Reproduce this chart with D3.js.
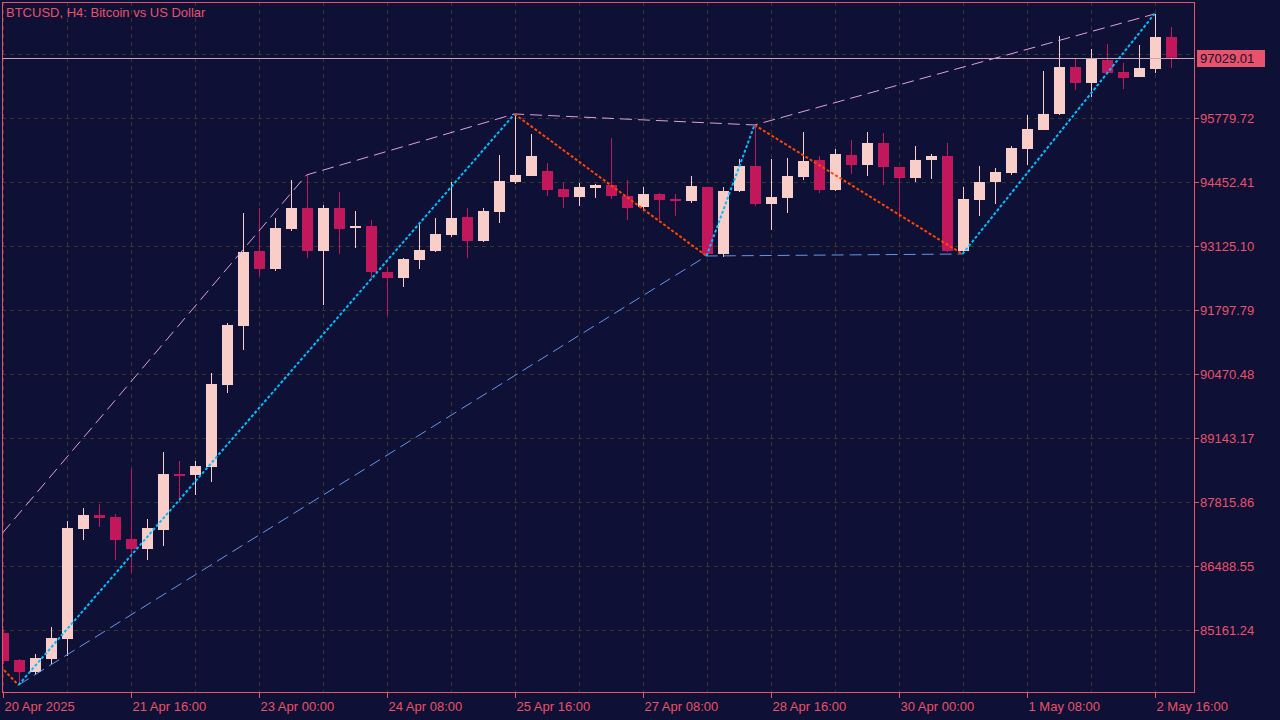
<!DOCTYPE html>
<html><head><meta charset="utf-8">
<script src="https://cdn.jsdelivr.net/npm/d3@7"></script>
<style>html,body{margin:0;padding:0;background:#0e1035;overflow:hidden}</style>
</head><body><svg id="c" width="1280" height="720"></svg>
<script>
// OHLC per 4h bar (index 0..73)
const opens  = [85099,84539,84290,84559,84974,87256,87546,87504,87048,86841,87235,88396,88376,88541,90242,91466,93021,92648,93478,93913,93021,93913,93519,93540,92586,92461,92835,93021,93353,93726,93229,93830,94452,94577,94681,94307,94141,94328,94390,94162,93934,94203,94100,94058,94349,92959,94266,94784,93996,94121,94556,94909,94286,95012,94805,95261,94763,94535,94909,94992,93021,94079,94452,94639,95137,95531,95863,96837,96506,96983,96734,96630,96796,97460];
const highs  = [85161,84559,84663,85223,87421,87691,87774,87567,88500,87463,88853,88666,88666,90491,91528,93809,93913,93706,94494,94598,93975,94245,93851,93664,92689,92876,93623,93706,94452,93913,93913,95012,95863,95448,94846,94432,94432,94411,95365,94494,94349,94224,94203,94577,94349,94349,94929,95635,94929,94950,95489,94992,95137,95323,95489,95469,94763,95199,95033,95261,94349,94784,94743,95199,95842,96755,97480,97003,97211,97314,96920,97294,97937,97667];
const lows   = [84456,84020,84228,84456,84622,87027,87297,86613,86343,86613,86903,87816,87961,88230,90076,90968,92503,92606,93436,92876,91901,92959,93084,92441,91673,92275,92648,93001,93312,92876,93208,93602,94411,94577,94162,93913,93955,94121,94100,93664,93851,93664,93747,94017,92918,92897,94245,93955,93457,93809,94494,94224,94266,94618,94577,94390,93706,94452,94515,93001,92959,93747,93996,94598,94805,95531,95842,96360,96215,96713,96381,96630,96713,96817];
const closes = [84518,84290,84580,84995,87276,87546,87484,87027,86841,87276,88396,88376,88562,90263,91487,93001,92648,93498,93913,93021,93913,93478,93540,92586,92461,92855,93042,93374,93706,93229,93851,94473,94598,94992,94286,94141,94349,94390,94162,93913,94203,94079,94058,94369,92959,94266,94784,93996,94141,94577,94888,94286,95033,94805,95261,94763,94535,94909,94992,93021,94100,94452,94660,95158,95552,95863,96837,96506,97003,96713,96609,96817,97460,97029.01];
const priceTicks = [95779.72,94452.41,93125.10,91797.79,90470.48,89143.17,87815.86,86488.55,85161.24];
const timeLabels = ["20 Apr 2025","21 Apr 16:00","23 Apr 00:00","24 Apr 08:00","25 Apr 16:00","27 Apr 08:00","28 Apr 16:00","30 Apr 00:00","1 May 08:00","2 May 16:00"];
const timeLabelIdx = [0,8,16,24,32,40,48,56,64,72];
const zigzag = [[-1,84700],[1,84020],[32,95863],[44,92918],[47,95635],[60,92959],[72,97937]];
const upperLine = [[0,87173],[19,94598],[32,95863],[47,95635],[72,97937]];
const lowerLine = [[1,84020],[44,92918],[60,92959]];
const lastPrice = 97029.01;

const svg = d3.select("#c");
const L=2,T=2,R=1194,B=692;
const x = d3.scaleLinear().domain([0,1]).range([2.5,18.5]);
const y = d3.scaleLinear().domain([93125.10,94452.41]).range([246,182]);
const font = "Liberation Sans, Arial, sans-serif";
const red = "#e8526a";

svg.append("rect").attr("width",1280).attr("height",720).attr("fill","#0e1035");
const clip = svg.append("defs").append("clipPath").attr("id","cp").append("rect").attr("x",L).attr("y",T).attr("width",R-L).attr("height",B-T);
const g = svg.append("g").attr("clip-path","url(#cp)");
// grid
const gridXs = d3.range(-1,19).map(i=>x(4*i));
g.selectAll(".gx").data(gridXs).join("line").attr("x1",d=>Math.round(d)+0.5).attr("x2",d=>Math.round(d)+0.5).attr("y1",T).attr("y2",B)
 .attr("stroke","#3b3524").attr("stroke-dasharray","4,4");
const gridYs = priceTicks.concat([97106.03]);
g.selectAll(".gy").data(gridYs).join("line").attr("y1",d=>Math.round(y(d))+0.5).attr("y2",d=>Math.round(y(d))+0.5).attr("x1",L).attr("x2",R)
 .attr("stroke","#3b3524").attr("stroke-dasharray","4,4");

const idx = d3.range(opens.length);
const bull="#f9cdc8", bear="#c2185b";
const col = i=> closes[i]>=opens[i]?bull:bear;
g.selectAll(".wk").data(idx).join("line").attr("x1",i=>Math.round(x(i))+0.5).attr("x2",i=>Math.round(x(i))+0.5)
 .attr("y1",i=>y(highs[i])).attr("y2",i=>y(lows[i])).attr("stroke",col).attr("stroke-width",1);
g.selectAll(".bd").data(idx).join("rect").attr("x",i=>Math.round(x(i))-5).attr("width",11)
 .attr("y",i=>Math.min(y(opens[i]),y(closes[i]))).attr("height",i=>Math.max(2,Math.abs(y(opens[i])-y(closes[i]))))
 .attr("fill",col);

const ln = d3.line().x(d=>x(d[0])).y(d=>y(d[1]));
g.append("path").attr("d",ln(upperLine)).attr("fill","none").attr("stroke","#dda0dd").attr("stroke-width",1).attr("stroke-dasharray","12,6");
g.append("path").attr("d",ln(lowerLine)).attr("fill","none").attr("stroke","#6495ed").attr("stroke-width",1).attr("stroke-dasharray","12,6");
for(let i=0;i<zigzag.length-1;i++){
  const up = zigzag[i+1][1]>zigzag[i][1];
  g.append("path").attr("d",ln([zigzag[i],zigzag[i+1]])).attr("fill","none")
   .attr("stroke",up?"#00bfff":"#ff4500").attr("stroke-width",2).attr("stroke-dasharray","3,2");
}
// last price line
g.append("line").attr("x1",L).attr("x2",R).attr("y1",Math.round(y(lastPrice))+0.5).attr("y2",Math.round(y(lastPrice))+0.5).attr("stroke","#c9a3b8").attr("stroke-width",1);

// frame
svg.append("rect").attr("x",L+0.5).attr("y",T+0.5).attr("width",R-L).attr("height",B-T).attr("fill","none").attr("stroke",red);
// price axis
priceTicks.forEach(p=>{
  const yy=Math.round(y(p))+0.5;
  svg.append("line").attr("x1",R).attr("x2",R+5).attr("y1",yy).attr("y2",yy).attr("stroke",red);
  svg.append("text").attr("x",1200).attr("y",yy+4.5).attr("fill",red).attr("font-family",font).attr("font-size",13).text(p.toFixed(2));
});
const ly=Math.round(y(lastPrice));
svg.append("rect").attr("x",1197).attr("y",ly-8).attr("width",68).attr("height",17).attr("fill",red);
svg.append("text").attr("x",1200).attr("y",ly+4.5).attr("fill","#0e1035").attr("font-family",font).attr("font-size",13).text(lastPrice.toFixed(2));
// time axis
timeLabelIdx.forEach((k,j)=>{
  const xx=Math.round(x(k))+0.5;
  svg.append("line").attr("x1",xx).attr("x2",xx).attr("y1",B).attr("y2",B+6).attr("stroke",red);
  svg.append("text").attr("x",xx+1).attr("y",711).attr("fill",red).attr("font-family",font).attr("font-size",13).text(timeLabels[j]);
});
svg.append("text").attr("x",6).attr("y",17).attr("fill",red).attr("font-family",font).attr("font-size",13).text("BTCUSD, H4:  Bitcoin vs US Dollar");
</script></body></html>
